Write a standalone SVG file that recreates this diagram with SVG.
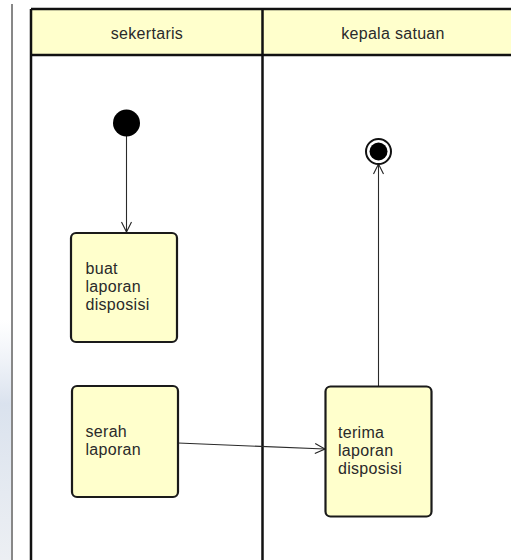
<svg xmlns="http://www.w3.org/2000/svg" width="511" height="560" viewBox="0 0 511 560">
  <defs>
    <marker id="open-arrow" viewBox="0 0 12 12" refX="11" refY="6" markerWidth="12" markerHeight="12" markerUnits="userSpaceOnUse" orient="auto">
      <path d="M1,1 L11,6 L1,11" fill="none" stroke="#222" stroke-width="1.1"/>
    </marker>
    <linearGradient id="edge-tint" x1="0" y1="0" x2="0" y2="1">
      <stop offset="0" stop-color="#dfe6f1" stop-opacity="0"/>
      <stop offset="0.35" stop-color="#d6dfec" stop-opacity="0.9"/>
      <stop offset="1" stop-color="#e4e8ee" stop-opacity="0.7"/>
    </linearGradient>
  </defs>
  <style>
    .lane { stroke: #111; stroke-width: 2.5; fill: none; }
    .head { fill: #ffffcc; }
    .label { font-family: "Liberation Sans", Arial, sans-serif; font-size: 16px; letter-spacing: 0.3px; fill: #2a2a2a; }
    .action { fill: #ffffcc; stroke: #1a1a1a; stroke-width: 2.2; }
    .flow { stroke: #2a2a2a; stroke-width: 1.1; fill: none; }
  </style>

  <rect width="511" height="560" fill="#ffffff"/>
  <!-- faint tint along the left margin -->
  <rect x="0" y="320" width="11" height="240" fill="url(#edge-tint)"/>
  <line x1="12" y1="4" x2="12" y2="560" stroke="#111" stroke-width="1"/>

  <!-- swimlanes -->
  <g id="lanes">
    <rect class="head" x="31" y="9" width="482" height="46"/>
    <line class="lane" x1="31" y1="9" x2="511" y2="9"/>
    <line class="lane" x1="31" y1="55" x2="511" y2="55"/>
    <line class="lane" x1="31" y1="9" x2="31" y2="560"/>
    <line class="lane" x1="262.5" y1="9" x2="262.5" y2="560"/>
    <text class="label" x="147" y="39" text-anchor="middle">sekertaris</text>
    <text class="label" x="393" y="39" text-anchor="middle">kepala satuan</text>
  </g>

  <!-- connectors -->
  <g id="connectors">
    <line class="flow" x1="126.5" y1="136" x2="126.5" y2="232" marker-end="url(#open-arrow)"/>
    <line class="flow" x1="178" y1="443" x2="325" y2="449" marker-end="url(#open-arrow)"/>
    <line class="flow" x1="378.5" y1="386" x2="378.5" y2="164" marker-end="url(#open-arrow)"/>
  </g>

  <g id="start">
    <circle cx="126.5" cy="123" r="13.5" fill="#000"/>
  </g>

  <g id="end">
    <circle cx="378.5" cy="151.5" r="12.5" fill="#fff" stroke="#111" stroke-width="2"/>
    <circle cx="378.5" cy="151.5" r="9" fill="#000"/>
  </g>

  <g id="buat-laporan-disposisi">
    <rect class="action" x="71" y="233" width="106" height="109" rx="5"/>
    <text class="label" x="85.5" y="274">buat</text>
    <text class="label" x="85.5" y="292">laporan</text>
    <text class="label" x="85.5" y="310">disposisi</text>
  </g>

  <g id="serah-laporan">
    <rect class="action" x="72" y="386" width="106" height="111" rx="5"/>
    <text class="label" x="85.5" y="437">serah</text>
    <text class="label" x="85.5" y="455">laporan</text>
  </g>

  <g id="terima-laporan-disposisi">
    <rect class="action" x="325.5" y="386.5" width="106" height="130" rx="5"/>
    <text class="label" x="338" y="438">terima</text>
    <text class="label" x="338" y="456">laporan</text>
    <text class="label" x="338" y="474">disposisi</text>
  </g>
</svg>
